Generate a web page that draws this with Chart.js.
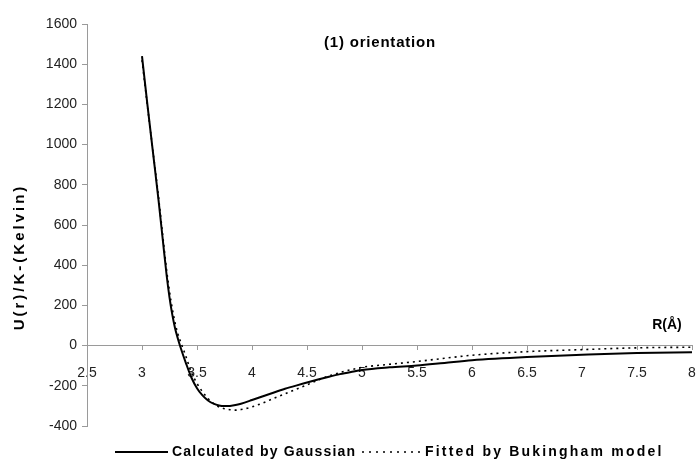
<!DOCTYPE html>
<html><head><meta charset="utf-8">
<script src="https://cdn.jsdelivr.net/npm/chart.js@4"></script>
<style>html,body{margin:0;padding:0;background:#fff}#wrap{width:699px;height:465px;position:relative}</style>
</head><body><div id="wrap"><canvas id="c" width="699" height="465"></canvas></div>
<script>
const rValues = [3.0,3.05,3.1,3.15,3.2,3.225,3.25,3.275,3.3,3.325,3.35,3.4,3.45,3.5,3.55,3.6,3.65,3.7,3.75,3.8,3.85,3.9,4.0,4.1,4.2,4.3,4.4,4.5,4.6,4.7,4.8,4.9,5.0,5.25,5.5,5.75,6.0,6.5,7.0,7.5,8.0];
const gaussianU = [1440,1195,960,725,470,345,240,155,88,37,-8,-88,-160,-212,-248,-273,-289,-298,-301,-300,-296,-289,-271,-252,-233,-215,-199,-184,-169,-155,-142,-131,-121,-108,-99,-86,-73,-57,-46,-37,-33];
const bukinghamU = [1420,1190,965,740,490,370,270,185,115,60,20,-55,-135,-188,-230,-263,-288,-305,-314,-319,-321,-318,-305,-285,-262,-240,-217,-195,-172,-151,-134,-120,-108,-93,-79,-63,-48,-30,-20,-11,-8];
const seriesNames = ['Calculated by Gaussian','Fitted by Bukingham model'];
const chartTitle = '(1) orientation';
const xAxisTitle = 'R(Å)';
const yAxisTitle = 'U(r)/K-(Kelvin)';
const xRange = [2.5, 8, 0.5];
const yRange = [-400, 1600, 200];

const AX = '#9a9a9a';
const FONT = '"Liberation Sans", Arial, sans-serif';
const toXY = (xs, ys) => xs.map((x, i) => ({x, y: ys[i]}));

const textPlugin = {
  id: 'texts',
  afterDraw(chart) {
    const ctx = chart.ctx;
    ctx.save();
    ctx.fillStyle = '#000';
    ctx.textBaseline = 'middle';
    // chart title inside plot
    ctx.font = 'bold 15px ' + FONT;
    ctx.letterSpacing = '0.8px';
    ctx.textAlign = 'center';
    ctx.fillText(chartTitle, 380, 43);
    // x axis title
    ctx.font = 'bold 14px ' + FONT;
    ctx.letterSpacing = '0px';
    ctx.fillText(xAxisTitle, 667, 325);
    // y axis title
    ctx.save();
    ctx.translate(20, 257);
    ctx.rotate(-Math.PI / 2);
    ctx.font = 'bold 15px ' + FONT;
    ctx.letterSpacing = '3px';
    ctx.fillText(yAxisTitle, 0, 0);
    ctx.restore();
    // legend
    ctx.font = 'bold 14px ' + FONT;
    ctx.textAlign = 'left';
    const ly = 452;
    ctx.strokeStyle = '#000';
    ctx.lineWidth = 2;
    ctx.setLineDash([]);
    ctx.beginPath(); ctx.moveTo(115, ly); ctx.lineTo(168, ly); ctx.stroke();
    ctx.letterSpacing = '1.2px';
    ctx.fillText(seriesNames[0], 172, ly);
    ctx.lineWidth = 1.5;
    ctx.setLineDash([2, 5]);
    ctx.beginPath(); ctx.moveTo(362, ly); ctx.lineTo(421, ly); ctx.stroke();
    ctx.setLineDash([]);
    ctx.letterSpacing = '2.2px';
    ctx.fillText(seriesNames[1], 425, ly);
    ctx.restore();
  }
};

new Chart(document.getElementById('c'), {
  type: 'line',
  data: {
    datasets: [
      {label: seriesNames[0], data: toXY(rValues, gaussianU), borderColor: '#000', borderWidth: 2, pointRadius: 0, cubicInterpolationMode: 'monotone', fill: false},
      {label: seriesNames[1], data: toXY(rValues, bukinghamU), borderColor: '#000', borderWidth: 1.6, borderDash: [2, 4], pointRadius: 0, cubicInterpolationMode: 'monotone', fill: false}
    ]
  },
  options: {
    responsive: false,
    animation: false,
    layout: {padding: {left: 0, right: 7, top: 24, bottom: 39}},
    plugins: {legend: {display: false}, tooltip: {enabled: false}},
    scales: {
      x: {
        type: 'linear',
        position: {y: 0},
        min: xRange[0], max: xRange[1],
        ticks: {stepSize: xRange[2], color: '#222', font: {family: FONT, size: 14}, padding: 15, maxRotation: 0, autoSkip: false, callback: v => String(Number(v.toFixed(1)))},
        grid: {drawOnChartArea: false, color: AX, tickLength: 4},
        border: {color: AX, width: 1},
        afterFit(scale) { scale.paddingLeft = 0; scale.paddingRight = 0; }
      },
      y: {
        type: 'linear',
        min: yRange[0], max: yRange[1],
        ticks: {stepSize: yRange[2], color: '#222', font: {family: FONT, size: 14}, padding: 5, callback: v => String(v)},
        grid: {drawOnChartArea: false, color: AX, tickLength: 5},
        border: {color: AX, width: 1},
        afterFit(scale) { scale.width = 87; scale.paddingTop = 0; scale.paddingBottom = 0; }
      }
    }
  },
  plugins: [textPlugin]
});
</script></body></html>
